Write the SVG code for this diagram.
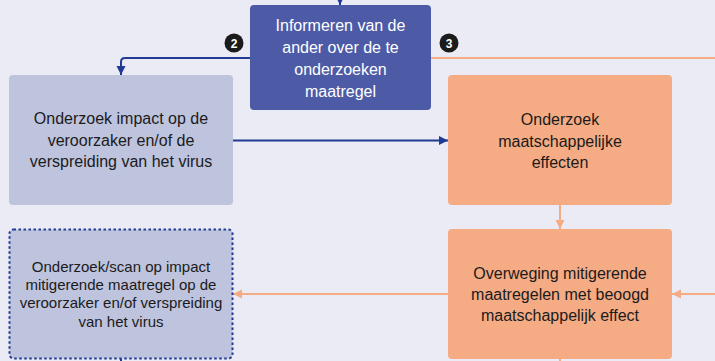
<svg xmlns="http://www.w3.org/2000/svg" width="715" height="361" viewBox="0 0 715 361">
<defs>
<style>
.t{font-family:"Liberation Sans",Arial,sans-serif;font-size:16px;text-anchor:middle;fill:#1b1b1b}
.w{fill:#ffffff}
.s{font-size:15px}
.nav{stroke:#1f3b94;stroke-width:2;fill:none}
.org{stroke:#f5ab84;stroke-width:2;fill:none}
.badge{fill:#1b1b1b}
.bt{font-family:"Liberation Sans",Arial,sans-serif;font-size:12px;font-weight:bold;fill:#ffffff;text-anchor:middle}
</style>
<marker id="an" markerWidth="10" markerHeight="10" refX="9" refY="5" orient="auto" markerUnits="userSpaceOnUse"><path d="M0,0.5 L9,5 L0,9.5 Z" fill="#1f3b94"/></marker>
<marker id="ao" markerWidth="10" markerHeight="10" refX="9" refY="5" orient="auto" markerUnits="userSpaceOnUse"><path d="M0,0.5 L9,5 L0,9.5 Z" fill="#f5ab84"/></marker>
</defs>
<rect x="0" y="0" width="715" height="361" fill="#eaebf4"/>
<g id="connectors">
<path class="nav" d="M340,-4 L340,5" marker-end="url(#an)"/>
<path class="nav" d="M250,58 L125,58 Q121,58 121,62 L121,75" marker-end="url(#an)"/>
<path class="nav" d="M233,140.5 L448,140.5" marker-end="url(#an)"/>
<path class="org" d="M431,58 L715,58"/>
<path class="org" d="M560,205 L560,229" marker-end="url(#ao)"/>
<path class="org" d="M715,294 L672,294" marker-end="url(#ao)"/>
<path class="org" d="M448,294 L233,294" marker-end="url(#ao)"/>
<path class="org" d="M560,359 L560,361"/>
<path class="nav" d="M121,359 L121,361"/>
</g>
<g id="badge2"><circle class="badge" cx="234" cy="43" r="9.5"/><text class="bt" x="234" y="47.5">2</text></g>
<g id="badge3"><circle class="badge" cx="449" cy="43" r="9.5"/><text class="bt" x="449" y="47.5">3</text></g>
<g id="informeren">
<rect x="250" y="5" width="181" height="105" rx="4" fill="#4d5ba6"/>
<text class="t w" x="340.5" y="31">Informeren van de</text>
<text class="t w" x="340.5" y="53">ander over de te</text>
<text class="t w" x="340.5" y="75">onderzoeken</text>
<text class="t w" x="340.5" y="97">maatregel</text>
</g>
<g id="onderzoek-impact">
<rect x="9" y="75" width="224" height="130" rx="4" fill="#bec3de"/>
<text class="t" x="121" y="124">Onderzoek impact op de</text>
<text class="t" x="121" y="146">veroorzaker en/of de</text>
<text class="t" x="121" y="167">verspreiding van het virus</text>
</g>
<g id="onderzoek-maatschappelijk">
<rect x="448" y="75" width="224" height="130" rx="4" fill="#f5ab84"/>
<text class="t" x="560" y="125">Onderzoek</text>
<text class="t" x="560" y="147">maatschappelijke</text>
<text class="t" x="560" y="168">effecten</text>
</g>
<g id="overweging">
<rect x="448" y="229" width="224" height="130" rx="4" fill="#f5ab84"/>
<text class="t" x="560" y="279">Overweging mitigerende</text>
<text class="t" x="560" y="300">maatregelen met beoogd</text>
<text class="t" x="560" y="321">maatschappelijk effect</text>
</g>
<g id="scan">
<rect x="9.5" y="229.5" width="223" height="129" rx="4" fill="#bec3de" stroke="#1f3b94" stroke-width="2" stroke-dasharray="2.5 2.5"/>
<text class="t s" x="121" y="272">Onderzoek/scan op impact</text>
<text class="t s" x="121" y="290">mitigerende maatregel op de</text>
<text class="t s" x="121" y="308">veroorzaker en/of verspreiding</text>
<text class="t s" x="121" y="327">van het virus</text>
</g>
</svg>
